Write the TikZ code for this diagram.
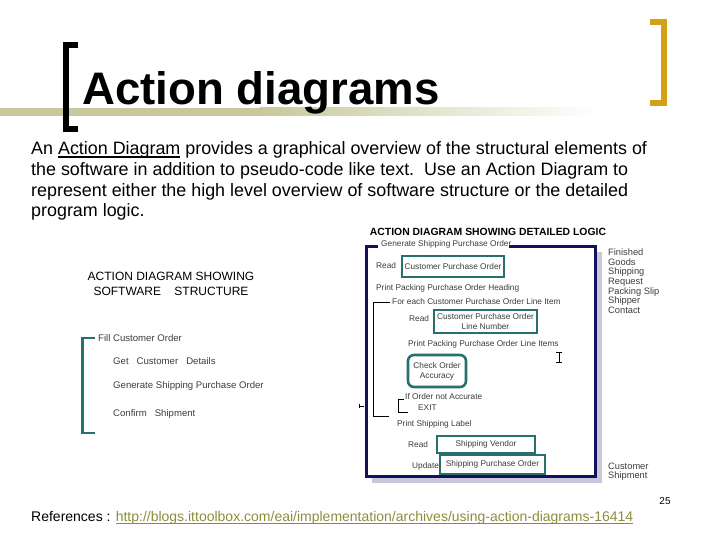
\documentclass[tikz,border=0pt]{standalone}
\usepackage{fontspec}
\setmainfont{Liberation Sans}
\newcommand{\ulx}[1]{\leavevmode\setbox0=\hbox{#1}\rlap{\vrule width\wd0 height -1.5pt depth 2.6pt}\box0\relax}
\definecolor{barc}{RGB}{200,200,155}
\definecolor{goldc}{RGB}{212,160,24}
\definecolor{tealc}{RGB}{40,112,110}
\definecolor{navyc}{RGB}{18,18,92}
\definecolor{shadc}{RGB}{200,200,218}
\definecolor{linkc}{RGB}{140,140,60}
\definecolor{smallc}{RGB}{60,60,60}
\tikzset{
  body/.style={anchor=base west, inner sep=0pt, font=\fontsize{17.9}{20}\selectfont},
  lefttxt/.style={anchor=west, inner sep=0pt, text=smallc, font=\fontsize{9.6}{11}\selectfont},
  sm/.style={anchor=west, inner sep=0pt, text=smallc, font=\fontsize{8.3}{9.6}\selectfont},
  side/.style={anchor=north west, inner sep=0pt, text=smallc, align=left, font=\fontsize{9.3}{9.7}\selectfont},
  tbox/.style={draw=tealc, line width=2.6pt, fill=white, inner sep=0pt, text=smallc,
     font=\fontsize{8.3}{10}\selectfont, align=center},
  thin/.style={draw=black, line width=0.9pt}
}
\begin{document}
\begin{tikzpicture}[x=1pt,y=-1pt]
\useasboundingbox (0,0) rectangle (720,540);
% header bar
\fill[barc] (0,108) rectangle (260,116);
\shade[left color=barc, right color=white] (259.5,108) rectangle (600,116);
% brackets
\draw[line width=6pt, goldc] (650,22.5) -- (663.5,22.5) -- (663.5,103) -- (650,103);
\draw[line width=6pt, black] (78,45) -- (66,45) -- (66,129) -- (78,129);
\node[anchor=base west, inner sep=0pt, font=\fontsize{45.6}{46}\selectfont\bfseries] (title) at (82,105) {Action diagrams};
% body text
\node[body] (l1) at (31,155) {An \ulx{Action Diagram} provides a graphical overview of the structural elements of};
\node[body] (l2) at (31,176) {the software in addition to pseudo-code like text.\ \ Use an Action Diagram to};
\node[body] (l3) at (31,196.5) {represent either the high level overview of software structure or the detailed};
\node[body] (l4) at (31,217) {program logic.};
% left diagram
\node[inner sep=0pt, align=center, font=\fontsize{12}{15}\selectfont] (lt) at (171,284)
  {ACTION DIAGRAM SHOWING\\SOFTWARE\ \ \ \ STRUCTURE};
\draw[tealc, line width=2.6pt] (95,338) -- (82.5,338) -- (82.5,433) -- (95,433);
\node[lefttxt] (f1) at (98,338) {Fill Customer Order};
\node[lefttxt] (f2) at (113,361) {Get\ \ \ Customer\ \ \ Details};
\node[lefttxt] (f3) at (113,386) {Generate Shipping Purchase Order};
\node[lefttxt] (f4) at (113,414) {Confirm\ \ \ Shipment};
% right diagram
\node[inner sep=0pt, font=\fontsize{10.4}{12}\selectfont\bfseries] (rt) at (488,231.5)
  {ACTION DIAGRAM SHOWING DETAILED LOGIC};
\fill[shadc] (372,252) rectangle (602,483);
\fill[white] (366.5,246) rectangle (595,476.5);
\draw[navyc, line width=3pt] (378,246) -- (366.5,246) -- (366.5,476.5) -- (595,476.5) -- (595,246) -- (509,246);
\node[sm] (gspo) at (381,244) {Generate Shipping Purchase Order};
\node[sm] (rd1) at (376,266) {Read};
\node[tbox, minimum width=102pt, minimum height=21pt] (cpo) at (453,266.5) {Customer Purchase Order};
\node[sm] (ppoh) at (376,288) {Print Packing Purchase Order Heading};
\coordinate (b1t) at (390,302);
\coordinate (b1c) at (373,302);
\coordinate (b1d) at (373,416);
\coordinate (b1e) at (389,416);
\draw[thin] (b1t) -- (b1c) -- (b1d) -- (b1e);
\node[sm] (fe) at (392,302) {For each Customer Purchase Order Line Item};
\node[sm] (rd2) at (409,319) {Read};
\node[tbox, minimum width=103pt, minimum height=23pt] (cpol) at (485.5,321.5) {Customer Purchase Order\\Line Number};
\node[sm] (ppli) at (408,344) {Print Packing Purchase Order Line Items};
\node[tbox, rounded corners=6pt, minimum width=58pt, minimum height=32pt] (coa) at (437,371) {Check Order\\Accuracy};
\coordinate (b2t) at (404,399);
\coordinate (b2c) at (398,399);
\coordinate (b2d) at (398,412);
\coordinate (b2e) at (408,412);
\draw[thin] (b2t) -- (b2c) -- (b2d) -- (b2e);
\node[sm] (ifn) at (405,397) {If Order not Accurate};
\node[sm] (ex) at (418,408) {EXIT};
\node[sm] (psl) at (397,424) {Print Shipping Label};
\node[sm] (rd3) at (408,445) {Read};
\node[tbox, minimum width=98pt, minimum height=17pt] (sv) at (486,444.5) {Shipping Vendor};
\node[sm] (up) at (412,466) {Update};
\node[tbox, minimum width=105pt, minimum height=19pt] (spo) at (492.5,464.5) {Shipping Purchase Order};
% cursor marks
\draw[black, line width=0.6pt] (556,352) -- (562,352) (559,352) -- (559,362) (556,362) -- (562,362);
\draw[black, line width=0.6pt] (359,406) -- (364,406) (359,404) -- (359,408);
% side labels
\node[side] (fg) at (608,248.5) {Finished\\Goods\\Shipping\\Request\\Packing Slip\\Shipper\\Contact};
\node[side] (cs) at (608,462.5) {Customer\\Shipment};
% footer
\node[inner sep=0pt, font=\fontsize{10}{12}\selectfont] (pg) at (665,501) {25};
\node[anchor=base west, inner sep=0pt, font=\fontsize{14}{16}\selectfont] (ref) at (31,521)
  {References : \textcolor{linkc}{\ulx{http://blogs.ittoolbox.com/eai/implementation/archives/using-action-diagrams-16414}}};
\end{tikzpicture}
\end{document}
